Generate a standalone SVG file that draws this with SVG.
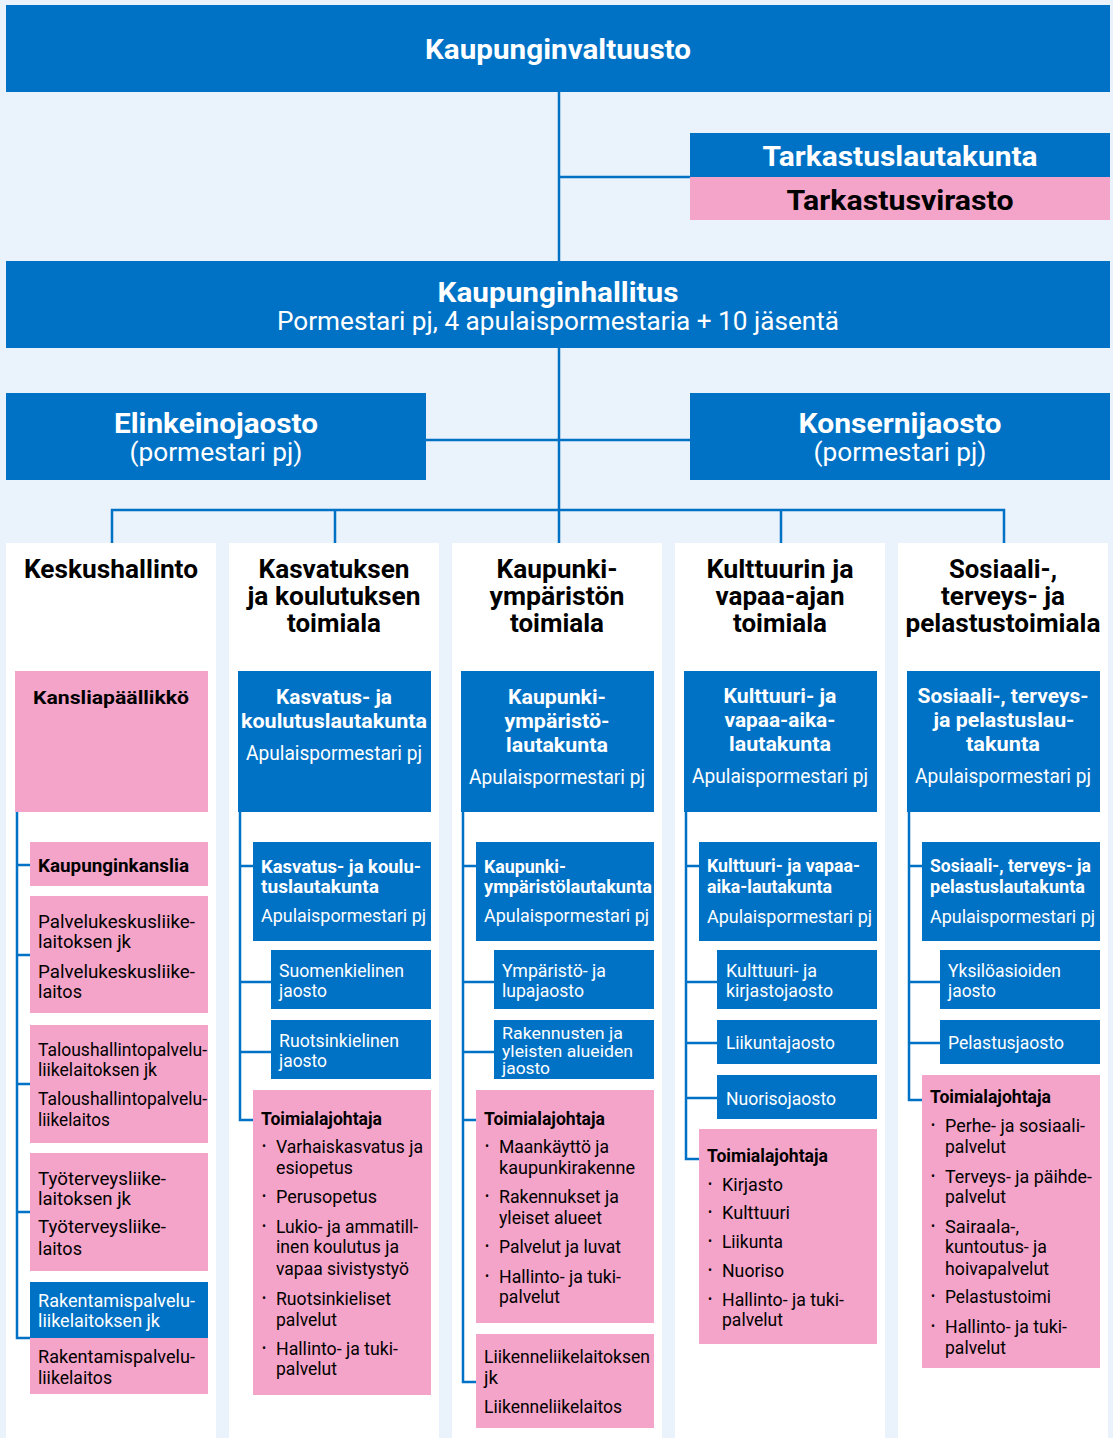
<svg xmlns="http://www.w3.org/2000/svg" width="1113" height="1438" viewBox="0 0 1113 1438">
<style>
text{font-family:Roboto,"Liberation Sans",sans-serif}
.bl{fill:#0072C6}.pk{fill:#F4A4C8}.wh{fill:#FFFFFF}
.c{text-anchor:middle}
.t1{font-size:28px;font-weight:700;fill:#fff}
.t1k{font-size:28px;font-weight:700;fill:#000}
.s1{font-size:25px;fill:#fff}
.h{font-size:25px;font-weight:700;fill:#000}
.tb{font-size:21px;font-weight:700;fill:#fff}
.tr{font-size:21px;fill:#fff}
.sb{font-size:19px;font-weight:700;fill:#fff}
.sr{font-size:19px;fill:#fff}
.sm{font-size:17px;fill:#fff}
.pb{font-size:19px;font-weight:700;fill:#000}
.pr{font-size:19px;fill:#000}
.bu{font-size:12px;fill:#000}
.ln{stroke:#0072C6;stroke-width:2.5;fill:none}
</style>
<rect x="0" y="0" width="1113" height="1438" fill="#EAF2FB"/>
<g id="kaupunginvaltuusto">
<rect class="bl" x="6" y="5" width="1104" height="87"/>
<text class="t1 c" x="558" y="59" textLength="266" lengthAdjust="spacingAndGlyphs">Kaupunginvaltuusto</text>
</g>
<g id="tarkastuslautakunta">
<rect class="bl" x="690" y="133" width="420" height="44"/>
<text class="t1 c" x="900" y="166" textLength="275" lengthAdjust="spacingAndGlyphs">Tarkastuslautakunta</text>
</g>
<g id="tarkastusvirasto">
<rect class="pk" x="690" y="177" width="420" height="43"/>
<text class="t1k c" x="900" y="210" textLength="227" lengthAdjust="spacingAndGlyphs">Tarkastusvirasto</text>
</g>
<g id="kaupunginhallitus">
<rect class="bl" x="6" y="261" width="1104" height="87"/>
<text class="t1 c" x="558" y="302" textLength="241" lengthAdjust="spacingAndGlyphs">Kaupunginhallitus</text>
<text class="s1 c" x="558" y="330" textLength="562" lengthAdjust="spacingAndGlyphs">Pormestari pj, 4 apulaispormestaria + 10 jäsentä</text>
</g>
<g id="elinkeinojaosto">
<rect class="bl" x="6" y="393" width="420" height="87"/>
<text class="t1 c" x="216" y="433" textLength="204" lengthAdjust="spacingAndGlyphs">Elinkeinojaosto</text>
<text class="s1 c" x="216" y="461" textLength="173" lengthAdjust="spacingAndGlyphs">(pormestari pj)</text>
</g>
<g id="konsernijaosto">
<rect class="bl" x="690" y="393" width="420" height="87"/>
<text class="t1 c" x="900" y="433" textLength="203" lengthAdjust="spacingAndGlyphs">Konsernijaosto</text>
<text class="s1 c" x="900" y="461" textLength="173" lengthAdjust="spacingAndGlyphs">(pormestari pj)</text>
</g>

<g id="col-keskushallinto">
<rect class="wh" x="6" y="543" width="210" height="895"/>
<text class="h c" x="111" y="578" textLength="174" lengthAdjust="spacingAndGlyphs">Keskushallinto</text>
</g>
<g id="col-kasvatus">
<rect class="wh" x="229" y="543" width="210" height="895"/>
<text class="h c" x="334" y="578" textLength="151" lengthAdjust="spacingAndGlyphs">Kasvatuksen</text>
<text class="h c" x="334" y="605" textLength="173" lengthAdjust="spacingAndGlyphs">ja koulutuksen</text>
<text class="h c" x="334" y="632" textLength="94" lengthAdjust="spacingAndGlyphs">toimiala</text>
</g>
<g id="col-kaupunkiymparisto">
<rect class="wh" x="452" y="543" width="210" height="895"/>
<text class="h c" x="557" y="578" textLength="121" lengthAdjust="spacingAndGlyphs">Kaupunki-</text>
<text class="h c" x="557" y="605" textLength="135" lengthAdjust="spacingAndGlyphs">ympäristön</text>
<text class="h c" x="557" y="632" textLength="94" lengthAdjust="spacingAndGlyphs">toimiala</text>
</g>
<g id="col-kulttuuri">
<rect class="wh" x="675" y="543" width="210" height="895"/>
<text class="h c" x="780" y="578" textLength="147" lengthAdjust="spacingAndGlyphs">Kulttuurin ja</text>
<text class="h c" x="780" y="605" textLength="129" lengthAdjust="spacingAndGlyphs">vapaa-ajan</text>
<text class="h c" x="780" y="632" textLength="94" lengthAdjust="spacingAndGlyphs">toimiala</text>
</g>
<g id="col-sosiaali">
<rect class="wh" x="898" y="543" width="210" height="895"/>
<text class="h c" x="1003" y="578" textLength="108" lengthAdjust="spacingAndGlyphs">Sosiaali-,</text>
<text class="h c" x="1003" y="605" textLength="124" lengthAdjust="spacingAndGlyphs">terveys- ja</text>
<text class="h c" x="1003" y="632" textLength="195" lengthAdjust="spacingAndGlyphs">pelastustoimiala</text>
</g>

<g id="connectors" class="ln">
<path d="M559 92V261"/>
<path d="M559 348V510"/>
<path d="M559 177H690"/>
<path d="M426 440H559M559 440H690"/>
<path d="M112 543V510H1004V543"/>
<path d="M335 510V543M559 510V543M781 510V543"/>
<path d="M17 812V1338H30M17 865H30M17 955H30M17 1084H30M17 1212H30"/>
<path d="M240 812V1120H253M240 866H253M240 982H271M240 1052H271"/>
<path d="M463 812V1382H476M463 866H476M463 982H494M463 1052H494M463 1120H476"/>
<path d="M686 812V1159H699M686 866H699M686 982H717M686 1043H717M686 1098H717"/>
<path d="M909 812V1100H922M909 866H922M909 982H940M909 1043H940"/>
</g>

<g id="kansliapaallikko">
<rect class="pk" x="15" y="671" width="193" height="141"/>
<text class="pb" x="33" y="704" textLength="156" lengthAdjust="spacingAndGlyphs">Kansliapäällikkö</text>
</g>
<g id="kaupunginkanslia">
<rect class="pk" x="30" y="842" width="178" height="44"/>
<text class="pb" x="38" y="872" textLength="151" lengthAdjust="spacingAndGlyphs">Kaupunginkanslia</text>
</g>
<g id="palvelukeskus">
<rect class="pk" x="30" y="896" width="178" height="117"/>
<text class="pr" x="38" y="928" textLength="157" lengthAdjust="spacingAndGlyphs">Palvelukeskusliike-</text>
<text class="pr" x="38" y="948" textLength="93" lengthAdjust="spacingAndGlyphs">laitoksen jk</text>
<text class="pr" x="38" y="978" textLength="157" lengthAdjust="spacingAndGlyphs">Palvelukeskusliike-</text>
<text class="pr" x="38" y="998" textLength="44" lengthAdjust="spacingAndGlyphs">laitos</text>
</g>
<g id="taloushallinto">
<rect class="pk" x="30" y="1025" width="178" height="118"/>
<text class="pr" x="38" y="1056" textLength="169" lengthAdjust="spacingAndGlyphs">Taloushallintopalvelu-</text>
<text class="pr" x="38" y="1076" textLength="119" lengthAdjust="spacingAndGlyphs">liikelaitoksen jk</text>
<text class="pr" x="38" y="1105" textLength="169" lengthAdjust="spacingAndGlyphs">Taloushallintopalvelu-</text>
<text class="pr" x="38" y="1126" textLength="72" lengthAdjust="spacingAndGlyphs">liikelaitos</text>
</g>
<g id="tyoterveys">
<rect class="pk" x="30" y="1153" width="178" height="118"/>
<text class="pr" x="38" y="1185" textLength="128" lengthAdjust="spacingAndGlyphs">Työterveysliike-</text>
<text class="pr" x="38" y="1205" textLength="93" lengthAdjust="spacingAndGlyphs">laitoksen jk</text>
<text class="pr" x="38" y="1233" textLength="128" lengthAdjust="spacingAndGlyphs">Työterveysliike-</text>
<text class="pr" x="38" y="1255" textLength="44" lengthAdjust="spacingAndGlyphs">laitos</text>
</g>
<g id="rakentamispalvelu">
<rect class="bl" x="30" y="1282" width="178" height="56"/>
<rect class="pk" x="30" y="1338" width="178" height="56"/>
<text class="sr" x="38" y="1307" textLength="157" lengthAdjust="spacingAndGlyphs">Rakentamispalvelu-</text>
<text class="sr" x="38" y="1327" textLength="122" lengthAdjust="spacingAndGlyphs">liikelaitoksen jk</text>
<text class="pr" x="38" y="1363" textLength="157" lengthAdjust="spacingAndGlyphs">Rakentamispalvelu-</text>
<text class="pr" x="38" y="1384" textLength="74" lengthAdjust="spacingAndGlyphs">liikelaitos</text>
</g>

<g id="kasvatus-lautakunta-top">
<rect class="bl" x="238" y="671" width="193" height="141"/>
<text class="tb c" x="334" y="704" textLength="116" lengthAdjust="spacingAndGlyphs">Kasvatus- ja</text>
<text class="tb c" x="334" y="728" textLength="186" lengthAdjust="spacingAndGlyphs">koulutuslautakunta</text>
<text class="tr c" x="334" y="760" textLength="176" lengthAdjust="spacingAndGlyphs">Apulaispormestari pj</text>
</g>
<g id="kasvatus-lautakunta">
<rect class="bl" x="253" y="842" width="178" height="99"/>
<text class="sb" x="261" y="873" textLength="160" lengthAdjust="spacingAndGlyphs">Kasvatus- ja koulu-</text>
<text class="sb" x="261" y="893" textLength="118" lengthAdjust="spacingAndGlyphs">tuslautakunta</text>
<text class="sr" x="261" y="922" textLength="165" lengthAdjust="spacingAndGlyphs">Apulaispormestari pj</text>
</g>
<g id="suomenkielinen">
<rect class="bl" x="271" y="950" width="160" height="59"/>
<text class="sr" x="279" y="977" textLength="125" lengthAdjust="spacingAndGlyphs">Suomenkielinen</text>
<text class="sr" x="279" y="997" textLength="48" lengthAdjust="spacingAndGlyphs">jaosto</text>
</g>
<g id="ruotsinkielinen">
<rect class="bl" x="271" y="1020" width="160" height="59"/>
<text class="sr" x="279" y="1047" textLength="120" lengthAdjust="spacingAndGlyphs">Ruotsinkielinen</text>
<text class="sr" x="279" y="1067" textLength="48" lengthAdjust="spacingAndGlyphs">jaosto</text>
</g>
<g id="kasvatus-toimialajohtaja">
<rect class="pk" x="253" y="1090" width="178" height="305"/>
<text class="pb" x="261" y="1125" textLength="121" lengthAdjust="spacingAndGlyphs">Toimialajohtaja</text>
<text class="bu" x="262" y="1150">•</text>
<text class="pr" x="276" y="1153" textLength="147" lengthAdjust="spacingAndGlyphs">Varhaiskasvatus ja</text>
<text class="pr" x="276" y="1174" textLength="77" lengthAdjust="spacingAndGlyphs">esiopetus</text>
<text class="bu" x="262" y="1200">•</text>
<text class="pr" x="276" y="1203" textLength="101" lengthAdjust="spacingAndGlyphs">Perusopetus</text>
<text class="bu" x="262" y="1230">•</text>
<text class="pr" x="276" y="1233" textLength="142" lengthAdjust="spacingAndGlyphs">Lukio- ja ammatill-</text>
<text class="pr" x="276" y="1253" textLength="123" lengthAdjust="spacingAndGlyphs">inen koulutus ja</text>
<text class="pr" x="276" y="1275" textLength="133" lengthAdjust="spacingAndGlyphs">vapaa sivistystyö</text>
<text class="bu" x="262" y="1302">•</text>
<text class="pr" x="276" y="1305" textLength="115" lengthAdjust="spacingAndGlyphs">Ruotsinkieliset</text>
<text class="pr" x="276" y="1326" textLength="61" lengthAdjust="spacingAndGlyphs">palvelut</text>
<text class="bu" x="262" y="1352">•</text>
<text class="pr" x="276" y="1355" textLength="122" lengthAdjust="spacingAndGlyphs">Hallinto- ja tuki-</text>
<text class="pr" x="276" y="1375" textLength="61" lengthAdjust="spacingAndGlyphs">palvelut</text>
</g>

<g id="kaupunkiymparisto-lautakunta-top">
<rect class="bl" x="461" y="671" width="193" height="141"/>
<text class="tb c" x="557" y="704" textLength="98" lengthAdjust="spacingAndGlyphs">Kaupunki-</text>
<text class="tb c" x="557" y="728" textLength="105" lengthAdjust="spacingAndGlyphs">ympäristö-</text>
<text class="tb c" x="557" y="752" textLength="102" lengthAdjust="spacingAndGlyphs">lautakunta</text>
<text class="tr c" x="557" y="784" textLength="176" lengthAdjust="spacingAndGlyphs">Apulaispormestari pj</text>
</g>
<g id="kaupunkiymparisto-lautakunta">
<rect class="bl" x="476" y="842" width="178" height="99"/>
<text class="sb" x="484" y="873" textLength="82" lengthAdjust="spacingAndGlyphs">Kaupunki-</text>
<text class="sb" x="484" y="893" textLength="168" lengthAdjust="spacingAndGlyphs">ympäristölautakunta</text>
<text class="sr" x="484" y="922" textLength="165" lengthAdjust="spacingAndGlyphs">Apulaispormestari pj</text>
</g>
<g id="ymparisto-lupajaosto">
<rect class="bl" x="494" y="950" width="160" height="59"/>
<text class="sr" x="502" y="977" textLength="104" lengthAdjust="spacingAndGlyphs">Ympäristö- ja</text>
<text class="sr" x="502" y="997" textLength="82" lengthAdjust="spacingAndGlyphs">lupajaosto</text>
</g>
<g id="rakennusten-jaosto">
<rect class="bl" x="494" y="1020" width="160" height="59"/>
<text class="sm" x="502" y="1039" textLength="121" lengthAdjust="spacingAndGlyphs">Rakennusten ja</text>
<text class="sm" x="502" y="1057" textLength="131" lengthAdjust="spacingAndGlyphs">yleisten alueiden</text>
<text class="sm" x="502" y="1074" textLength="48" lengthAdjust="spacingAndGlyphs">jaosto</text>
</g>
<g id="kaupunkiymparisto-toimialajohtaja">
<rect class="pk" x="476" y="1090" width="178" height="233"/>
<text class="pb" x="484" y="1125" textLength="121" lengthAdjust="spacingAndGlyphs">Toimialajohtaja</text>
<text class="bu" x="485" y="1150">•</text>
<text class="pr" x="499" y="1153" textLength="110" lengthAdjust="spacingAndGlyphs">Maankäyttö ja</text>
<text class="pr" x="499" y="1174" textLength="136" lengthAdjust="spacingAndGlyphs">kaupunkirakenne</text>
<text class="bu" x="485" y="1200">•</text>
<text class="pr" x="499" y="1203" textLength="120" lengthAdjust="spacingAndGlyphs">Rakennukset ja</text>
<text class="pr" x="499" y="1224" textLength="103" lengthAdjust="spacingAndGlyphs">yleiset alueet</text>
<text class="bu" x="485" y="1250">•</text>
<text class="pr" x="499" y="1253" textLength="122" lengthAdjust="spacingAndGlyphs">Palvelut ja luvat</text>
<text class="bu" x="485" y="1280">•</text>
<text class="pr" x="499" y="1283" textLength="122" lengthAdjust="spacingAndGlyphs">Hallinto- ja tuki-</text>
<text class="pr" x="499" y="1303" textLength="61" lengthAdjust="spacingAndGlyphs">palvelut</text>
</g>
<g id="liikenneliikelaitos">
<rect class="pk" x="476" y="1334" width="178" height="94"/>
<text class="pr" x="484" y="1363" textLength="166" lengthAdjust="spacingAndGlyphs">Liikenneliikelaitoksen</text>
<text class="pr" x="484" y="1384" textLength="14" lengthAdjust="spacingAndGlyphs">jk</text>
<text class="pr" x="484" y="1413" textLength="138" lengthAdjust="spacingAndGlyphs">Liikenneliikelaitos</text>
</g>

<g id="kulttuuri-lautakunta-top">
<rect class="bl" x="684" y="671" width="193" height="141"/>
<text class="tb c" x="780" y="703" textLength="113" lengthAdjust="spacingAndGlyphs">Kulttuuri- ja</text>
<text class="tb c" x="780" y="727" textLength="111" lengthAdjust="spacingAndGlyphs">vapaa-aika-</text>
<text class="tb c" x="780" y="751" textLength="102" lengthAdjust="spacingAndGlyphs">lautakunta</text>
<text class="tr c" x="780" y="783" textLength="176" lengthAdjust="spacingAndGlyphs">Apulaispormestari pj</text>
</g>
<g id="kulttuuri-lautakunta">
<rect class="bl" x="699" y="842" width="178" height="99"/>
<text class="sb" x="707" y="872" textLength="153" lengthAdjust="spacingAndGlyphs">Kulttuuri- ja vapaa-</text>
<text class="sb" x="707" y="893" textLength="125" lengthAdjust="spacingAndGlyphs">aika-lautakunta</text>
<text class="sr" x="707" y="923" textLength="165" lengthAdjust="spacingAndGlyphs">Apulaispormestari pj</text>
</g>
<g id="kirjastojaosto">
<rect class="bl" x="717" y="950" width="160" height="59"/>
<text class="sr" x="726" y="977" textLength="91" lengthAdjust="spacingAndGlyphs">Kulttuuri- ja</text>
<text class="sr" x="726" y="997" textLength="107" lengthAdjust="spacingAndGlyphs">kirjastojaosto</text>
</g>
<g id="liikuntajaosto">
<rect class="bl" x="717" y="1020" width="160" height="44"/>
<text class="sr" x="726" y="1049" textLength="109" lengthAdjust="spacingAndGlyphs">Liikuntajaosto</text>
</g>
<g id="nuorisojaosto">
<rect class="bl" x="717" y="1075" width="160" height="44"/>
<text class="sr" x="726" y="1105" textLength="110" lengthAdjust="spacingAndGlyphs">Nuorisojaosto</text>
</g>
<g id="kulttuuri-toimialajohtaja">
<rect class="pk" x="699" y="1129" width="178" height="215"/>
<text class="pb" x="707" y="1162" textLength="121" lengthAdjust="spacingAndGlyphs">Toimialajohtaja</text>
<text class="bu" x="708" y="1188">•</text>
<text class="pr" x="722" y="1191" textLength="61" lengthAdjust="spacingAndGlyphs">Kirjasto</text>
<text class="bu" x="708" y="1216">•</text>
<text class="pr" x="722" y="1219" textLength="68" lengthAdjust="spacingAndGlyphs">Kulttuuri</text>
<text class="bu" x="708" y="1245">•</text>
<text class="pr" x="722" y="1248" textLength="61" lengthAdjust="spacingAndGlyphs">Liikunta</text>
<text class="bu" x="708" y="1274">•</text>
<text class="pr" x="722" y="1277" textLength="62" lengthAdjust="spacingAndGlyphs">Nuoriso</text>
<text class="bu" x="708" y="1303">•</text>
<text class="pr" x="722" y="1306" textLength="122" lengthAdjust="spacingAndGlyphs">Hallinto- ja tuki-</text>
<text class="pr" x="722" y="1326" textLength="61" lengthAdjust="spacingAndGlyphs">palvelut</text>
</g>

<g id="sosiaali-lautakunta-top">
<rect class="bl" x="907" y="671" width="193" height="141"/>
<text class="tb c" x="1003" y="703" textLength="171" lengthAdjust="spacingAndGlyphs">Sosiaali-, terveys-</text>
<text class="tb c" x="1004" y="727" textLength="141" lengthAdjust="spacingAndGlyphs">ja pelastuslau-</text>
<text class="tb c" x="1003" y="751" textLength="74" lengthAdjust="spacingAndGlyphs">takunta</text>
<text class="tr c" x="1003" y="783" textLength="176" lengthAdjust="spacingAndGlyphs">Apulaispormestari pj</text>
</g>
<g id="sosiaali-lautakunta">
<rect class="bl" x="922" y="842" width="178" height="99"/>
<text class="sb" x="930" y="872" textLength="161" lengthAdjust="spacingAndGlyphs">Sosiaali-, terveys- ja</text>
<text class="sb" x="930" y="893" textLength="155" lengthAdjust="spacingAndGlyphs">pelastuslautakunta</text>
<text class="sr" x="930" y="923" textLength="165" lengthAdjust="spacingAndGlyphs">Apulaispormestari pj</text>
</g>
<g id="yksiloasioiden">
<rect class="bl" x="940" y="950" width="160" height="59"/>
<text class="sr" x="948" y="977" textLength="113" lengthAdjust="spacingAndGlyphs">Yksilöasioiden</text>
<text class="sr" x="948" y="997" textLength="48" lengthAdjust="spacingAndGlyphs">jaosto</text>
</g>
<g id="pelastusjaosto">
<rect class="bl" x="940" y="1020" width="160" height="44"/>
<text class="sr" x="948" y="1049" textLength="116" lengthAdjust="spacingAndGlyphs">Pelastusjaosto</text>
</g>
<g id="sosiaali-toimialajohtaja">
<rect class="pk" x="922" y="1075" width="178" height="293"/>
<text class="pb" x="930" y="1103" textLength="121" lengthAdjust="spacingAndGlyphs">Toimialajohtaja</text>
<text class="bu" x="931" y="1129">•</text>
<text class="pr" x="945" y="1132" textLength="140" lengthAdjust="spacingAndGlyphs">Perhe- ja sosiaali-</text>
<text class="pr" x="945" y="1153" textLength="61" lengthAdjust="spacingAndGlyphs">palvelut</text>
<text class="bu" x="931" y="1180">•</text>
<text class="pr" x="945" y="1183" textLength="147" lengthAdjust="spacingAndGlyphs">Terveys- ja päihde-</text>
<text class="pr" x="945" y="1203" textLength="61" lengthAdjust="spacingAndGlyphs">palvelut</text>
<text class="bu" x="931" y="1230">•</text>
<text class="pr" x="945" y="1233" textLength="74" lengthAdjust="spacingAndGlyphs">Sairaala-,</text>
<text class="pr" x="945" y="1253" textLength="102" lengthAdjust="spacingAndGlyphs">kuntoutus- ja</text>
<text class="pr" x="945" y="1275" textLength="104" lengthAdjust="spacingAndGlyphs">hoivapalvelut</text>
<text class="bu" x="931" y="1300">•</text>
<text class="pr" x="945" y="1303" textLength="106" lengthAdjust="spacingAndGlyphs">Pelastustoimi</text>
<text class="bu" x="931" y="1330">•</text>
<text class="pr" x="945" y="1333" textLength="122" lengthAdjust="spacingAndGlyphs">Hallinto- ja tuki-</text>
<text class="pr" x="945" y="1354" textLength="61" lengthAdjust="spacingAndGlyphs">palvelut</text>
</g>
</svg>
